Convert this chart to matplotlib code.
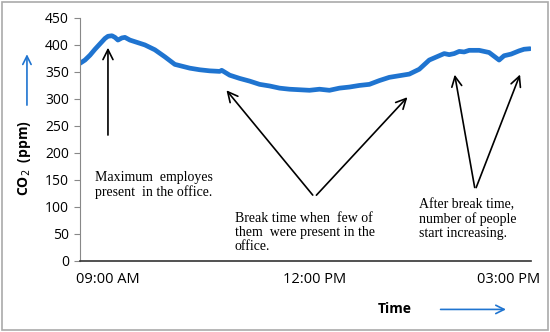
import matplotlib.pyplot as plt
from matplotlib.patches import FancyArrowPatch, Rectangle

# CO2 readings over the working day (sample index, ppm)
samples = [0, 5, 10, 15, 20, 25, 28, 32, 35, 38, 42, 45, 50, 55, 65, 75, 85, 95, 110, 120,
           130, 140, 142, 150, 160, 170, 180, 190, 200, 210, 220, 230, 240, 250, 260, 270,
           280, 290, 300, 310, 320, 330, 340, 350, 360, 365, 370, 375, 380, 385, 390, 400,
           410, 415, 420, 425, 432, 440, 445, 451]
co2 = [366, 372, 381, 392, 402, 412, 416, 417, 414, 409, 413, 414, 409, 406, 400, 391,
       378, 364, 357, 354, 352, 351, 353, 344, 338, 333, 327, 324, 320, 318, 317, 316,
       318, 316, 320, 322, 325, 327, 334, 340, 343, 346, 355, 372, 380, 384, 382, 384,
       388, 387, 390, 390, 386, 379, 372, 380, 383, 389, 392, 393]

tick_pos = [28, 235, 429]
tick_labels = ["09:00 AM", "12:00 PM", "03:00 PM"]
y_ticks = [0, 50, 100, 150, 200, 250, 300, 350, 400, 450]

plt.rcParams['font.family'] = ['Open Sans', 'DejaVu Sans']

fig = plt.figure(figsize=(5.5, 3.32), dpi=100)
ax = fig.add_axes([0.1455, 0.214, 0.82, 0.732])

ax.plot(samples, co2, color="#1f74d0", linewidth=3.4, solid_capstyle="round")

ax.set_xlim(0, 452)
ax.set_ylim(0, 450)
ax.set_yticks(y_ticks)
ax.set_xticks(tick_pos)
ax.set_xticklabels(tick_labels, fontsize=10.5)
ax.tick_params(axis="x", length=0, pad=8)
ax.tick_params(axis="y", length=4, color="#888888", labelsize=10, pad=4)
for s in ["top", "right"]:
    ax.spines[s].set_visible(False)
ax.spines["left"].set_color("#888888")
ax.spines["bottom"].set_color("#333333")
ax.spines["bottom"].set_linewidth(1.2)

# annotation arrows (data coordinates)
arr = dict(arrowstyle="->", color="black", lw=1.2, mutation_scale=18)
ax.annotate("", xy=(28, 400), xytext=(28, 228), arrowprops=arr)
ax.annotate("", xy=(145, 320), xytext=(235, 118), arrowprops=arr)
ax.annotate("", xy=(330, 307), xytext=(235, 118), arrowprops=arr)
ax.annotate("", xy=(375, 350), xytext=(396, 131), arrowprops=arr)
ax.annotate("", xy=(442, 350), xytext=(396, 131), arrowprops=arr)

serif = ["Liberation Serif", "DejaVu Serif"]
ax.text(15, 166, "Maximum  employes\npresent  in the office.", family=serif,
        fontsize=10, va="top", ha="left", linespacing=1.1)
ax.text(155, 90, "Break time when  few of\nthem  were present in the\noffice.",
        family=serif, fontsize=10, va="top", ha="left", linespacing=1.1)
ax.text(340, 117, "After break time,\nnumber of people\nstart increasing.",
        family=serif, fontsize=10, va="top", ha="left", linespacing=1.1)

# axis titles with blue arrows
fig.text(0.044, 0.525, "CO$_2$  (ppm)", rotation=90, fontsize=10, fontweight="bold",
         ha="center", va="center")
fig.patches.append(FancyArrowPatch((0.049, 0.675), (0.049, 0.845),
                                   transform=fig.transFigure, arrowstyle="->",
                                   color="#1f74d0", lw=1.2, mutation_scale=15))
fig.text(0.718, 0.068, "Time", fontsize=10, fontweight="bold", ha="center", va="center")
fig.patches.append(FancyArrowPatch((0.796, 0.068), (0.925, 0.068),
                                   transform=fig.transFigure, arrowstyle="->",
                                   color="#1f74d0", lw=1.2, mutation_scale=15))

# grey frame around the figure
fig.patches.append(Rectangle((0.004, 0.006), 0.992, 0.988, transform=fig.transFigure,
                             fill=False, edgecolor="#aaaaaa", lw=1.2))

fig.savefig("out.png", dpi=100)
